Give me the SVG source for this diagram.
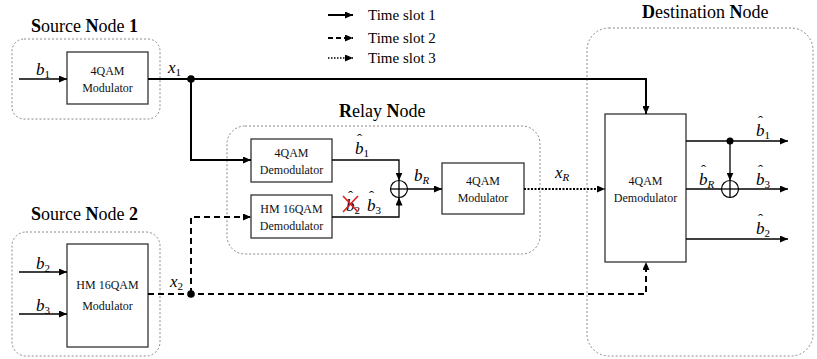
<svg xmlns="http://www.w3.org/2000/svg" width="817" height="359" viewBox="0 0 817 359">
<defs>
<marker id="ah" markerUnits="userSpaceOnUse" markerWidth="9" markerHeight="7" refX="8" refY="3.5" orient="auto">
<path d="M0,0 L8,3.5 L0,7 z" fill="#000"/>
</marker>
</defs>
<style>
.grp{fill:none;stroke:#8a8a8a;stroke-width:1;stroke-dasharray:2,2}
.box{fill:#fff;stroke:#333;stroke-width:1.3}
.bt{font-family:"Liberation Serif",serif;font-size:12px;fill:#111;text-anchor:middle}
.title{font-family:"Liberation Serif",serif;font-size:18px;fill:#000}
.b{font-weight:bold}
.m{font-family:"Liberation Serif",serif;font-size:17px;font-style:italic;fill:#000}
.s{font-size:11px;font-style:normal}
.si{font-size:11px;font-style:italic}
.hat{font-family:"Liberation Serif",serif;font-size:15px;fill:#000}
.leg{font-family:"Liberation Serif",serif;font-size:15px;fill:#000}
.thick{fill:none;stroke:#000;stroke-width:2}
.thin{fill:none;stroke:#000;stroke-width:1.3}
.dash{fill:none;stroke:#000;stroke-width:2;stroke-dasharray:6,4}
.dot{fill:none;stroke:#000;stroke-width:2;stroke-dasharray:2,1.5}
.xor{fill:#fff;stroke:#000;stroke-width:1.2}
</style>

<g id="legend">
<line class="thick" x1="328" y1="15" x2="353" y2="15" marker-end="url(#ah)"/>
<line class="thick" x1="328" y1="38" x2="353" y2="38" stroke-dasharray="5,3" marker-end="url(#ah)"/>
<line class="thin" x1="328" y1="58" x2="353" y2="58" stroke-dasharray="1.5,1.5" marker-end="url(#ah)"/>
<text class="leg" x="368" y="20">Time slot 1</text>
<text class="leg" x="368" y="43">Time slot 2</text>
<text class="leg" x="368" y="63">Time slot 3</text>
</g>

<g id="source1">
<text class="title" x="31" y="32"><tspan class="b">S</tspan>ource <tspan class="b">N</tspan>ode <tspan class="b">1</tspan></text>
<rect class="grp" x="12" y="39" width="148" height="80" rx="12"/>
<rect class="box" x="67" y="52" width="81" height="52"/>
<text class="bt" x="107.5" y="75">4QAM</text>
<text class="bt" x="107.5" y="92">Modulator</text>
</g>

<g id="source2">
<text class="title" x="31" y="220"><tspan class="b">S</tspan>ource <tspan class="b">N</tspan>ode <tspan class="b">2</tspan></text>
<rect class="grp" x="12" y="232" width="148" height="124" rx="14"/>
<rect class="box" x="67" y="244" width="81" height="103"/>
<text class="bt" x="107.5" y="289">HM 16QAM</text>
<text class="bt" x="107.5" y="310">Modulator</text>
</g>

<g id="relay">
<text class="title" x="339" y="117"><tspan class="b">R</tspan>elay <tspan class="b">N</tspan>ode</text>
<rect class="grp" x="227" y="126" width="313" height="128" rx="18"/>
<g id="relay-demod4">
<rect class="box" x="251" y="139" width="81" height="43"/>
<text class="bt" x="291.5" y="157">4QAM</text>
<text class="bt" x="291.5" y="174">Demodulator</text>
</g>
<g id="relay-demod16">
<rect class="box" x="251" y="195" width="81" height="43"/>
<text class="bt" x="291.5" y="213">HM 16QAM</text>
<text class="bt" x="291.5" y="230">Demodulator</text>
</g>
<g id="relay-xor">
<circle class="xor" cx="399" cy="189" r="8.5"/>
<line class="thin" x1="390.5" y1="189" x2="407.5" y2="189"/>
<line class="thin" x1="399" y1="180.5" x2="399" y2="197.5"/>
</g>
<g id="relay-mod">
<rect class="box" x="442" y="163" width="82" height="51"/>
<text class="bt" x="483" y="185">4QAM</text>
<text class="bt" x="483" y="202">Modulator</text>
</g>
</g>

<g id="destination">
<text class="title" x="642" y="18"><tspan class="b">D</tspan>estination <tspan class="b">N</tspan>ode</text>
<rect class="grp" x="587" y="28" width="226" height="328" rx="22"/>
<rect class="box" x="605" y="114" width="81" height="148"/>
<text class="bt" x="645.5" y="185">4QAM</text>
<text class="bt" x="645.5" y="202">Demodulator</text>
<g id="dest-xor">
<circle class="xor" cx="730" cy="189" r="8.5"/>
<line class="thin" x1="721.5" y1="189" x2="738.5" y2="189"/>
<line class="thin" x1="730" y1="180.5" x2="730" y2="197.5"/>
</g>
</g>

<g id="connectors">
<line class="thin" x1="19" y1="79" x2="67" y2="79" marker-end="url(#ah)"/>
<line class="thin" x1="19" y1="272" x2="67" y2="272" marker-end="url(#ah)"/>
<line class="thin" x1="19" y1="314" x2="67" y2="314" marker-end="url(#ah)"/>
<polyline class="thick" points="148,79 646,79 646,114" marker-end="url(#ah)"/>
<polyline class="thick" points="191,79 191,160 251,160" marker-end="url(#ah)"/>
<circle cx="191" cy="79" r="3.8" fill="#000"/>
<polyline class="dash" points="148,294 646,294 646,262" marker-end="url(#ah)"/>
<polyline class="dash" points="191,294 191,217 251,217" marker-end="url(#ah)"/>
<circle cx="191" cy="294" r="3.8" fill="#000"/>
<polyline class="thin" points="332,160 399,160 399,180.5" marker-end="url(#ah)"/>
<polyline class="thin" points="332,217 399,217 399,197.5" marker-end="url(#ah)"/>
<line class="thin" x1="407.5" y1="189" x2="442" y2="189" marker-end="url(#ah)"/>
<line class="dot" x1="524" y1="189" x2="605" y2="189" marker-end="url(#ah)"/>
<line class="thin" x1="686" y1="141" x2="788" y2="141" marker-end="url(#ah)"/>
<circle cx="730" cy="141" r="3.5" fill="#000"/>
<line class="thin" x1="730" y1="141" x2="730" y2="180.5" marker-end="url(#ah)"/>
<line class="thin" x1="686" y1="189" x2="721.5" y2="189"/>
<line class="thin" x1="738.5" y1="189" x2="788" y2="189" marker-end="url(#ah)"/>
<line class="thin" x1="686" y1="239" x2="788" y2="239" marker-end="url(#ah)"/>
</g>

<g id="labels">
<text class="m" x="36" y="75">b<tspan class="s" dy="3">1</tspan></text>
<text class="m" x="168" y="73">x<tspan class="s" dy="3">1</tspan></text>
<text class="m" x="36" y="269">b<tspan class="s" dy="3">2</tspan></text>
<text class="m" x="36" y="311">b<tspan class="s" dy="3">3</tspan></text>
<text class="m" x="170" y="287">x<tspan class="s" dy="3">2</tspan></text>
<text class="m" x="355" y="154">b<tspan class="s" dy="3">1</tspan></text>
<text class="hat" x="357" y="144">ˆ</text>
<text class="m" x="414" y="181">b<tspan class="si" dy="3">R</tspan></text>
<text class="m" x="346" y="211">b<tspan class="s" dy="3">2</tspan></text>
<text class="hat" x="348" y="201">ˆ</text>
<line x1="343" y1="196" x2="358" y2="212" stroke="#e02020" stroke-width="1.6"/>
<line x1="358" y1="196" x2="343" y2="212" stroke="#e02020" stroke-width="1.6"/>
<text class="m" x="367" y="211">b<tspan class="s" dy="3">3</tspan></text>
<text class="hat" x="369" y="201">ˆ</text>
<text class="m" x="555" y="178">x<tspan class="si" dy="3">R</tspan></text>
<text class="m" x="756" y="136">b<tspan class="s" dy="3">1</tspan></text>
<text class="hat" x="758" y="126">ˆ</text>
<text class="m" x="699" y="185">b<tspan class="si" dy="3">R</tspan></text>
<text class="hat" x="701" y="175">ˆ</text>
<text class="m" x="756" y="185">b<tspan class="s" dy="3">3</tspan></text>
<text class="hat" x="758" y="175">ˆ</text>
<text class="m" x="756" y="234">b<tspan class="s" dy="3">2</tspan></text>
<text class="hat" x="758" y="224">ˆ</text>
</g>
</svg>
